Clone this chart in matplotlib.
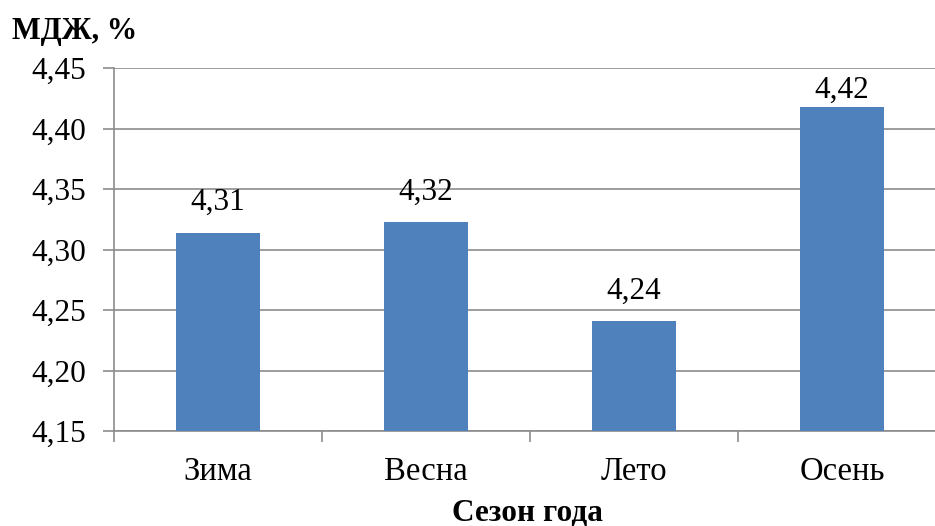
import matplotlib
matplotlib.use("Agg")
from matplotlib import pyplot as plt
from matplotlib.ticker import FixedLocator, FuncFormatter

seasons = ["Зима", "Весна", "Лето", "Осень"]
values = [4.314, 4.323, 4.241, 4.418]
labels = ["4,31", "4,32", "4,24", "4,42"]
yticks = [4.15, 4.20, 4.25, 4.30, 4.35, 4.40, 4.45]

plt.rcParams['font.family'] = ['Liberation Serif', 'DejaVu Serif']

fig = plt.figure(figsize=(9.35, 5.26), dpi=100)
W, H = 935, 526
ax = fig.add_axes([114 / W, 1 - 431 / H, (946 - 114) / W, (431 - 68) / H])

x = list(range(len(seasons)))
bars = ax.bar(x, values, width=0.4, color="#4F81BD", zorder=3)

ymax = 4.45
for b, lab in zip(bars, labels):
    # label sits above the bar, unless it would run off the top of the plot
    off = 11 if b.get_height() < ymax - 0.05 else 1.5
    ax.annotate(lab, (b.get_x() + b.get_width() / 2, b.get_height()),
                xytext=(0, off), textcoords="offset points",
                ha="center", va="bottom", fontsize=22.5, zorder=4)

ax.set_xlim(-0.5, len(seasons) - 0.5)
ax.set_ylim(4.15, ymax)
ax.set_yticks(yticks)
ax.yaxis.set_major_formatter(FuncFormatter(lambda v, p: f"{v:.2f}".replace(".", ",")))
ax.grid(axis="y", color="#8c8c8c", linewidth=1.2, zorder=0)

ax.set_xticks(x)
ax.set_xticklabels(seasons, fontsize=23.5)
ax.xaxis.set_minor_locator(FixedLocator([i - 0.5 for i in range(len(seasons) + 1)]))
ax.tick_params(axis="x", which="major", length=0, pad=18)
ax.tick_params(axis="x", which="minor", length=8, width=1.2, color="#8c8c8c", direction="out")
ax.tick_params(axis="y", length=8, width=1.2, color="#8c8c8c", labelsize=22.5, pad=12)

for s in ["top", "right"]:
    ax.spines[s].set_visible(False)
for s in ["left", "bottom"]:
    ax.spines[s].set_color("#8c8c8c")
    ax.spines[s].set_linewidth(1.2)

fig.text(12 / W, 1 - 31 / H, "МДЖ, %", fontsize=22, fontweight="bold", va="center", ha="left")
fig.text(527 / W, 1 - 513 / H, "Сезон года", fontsize=22.5, fontweight="bold", va="center", ha="center")

fig.savefig("out.png", dpi=100)
